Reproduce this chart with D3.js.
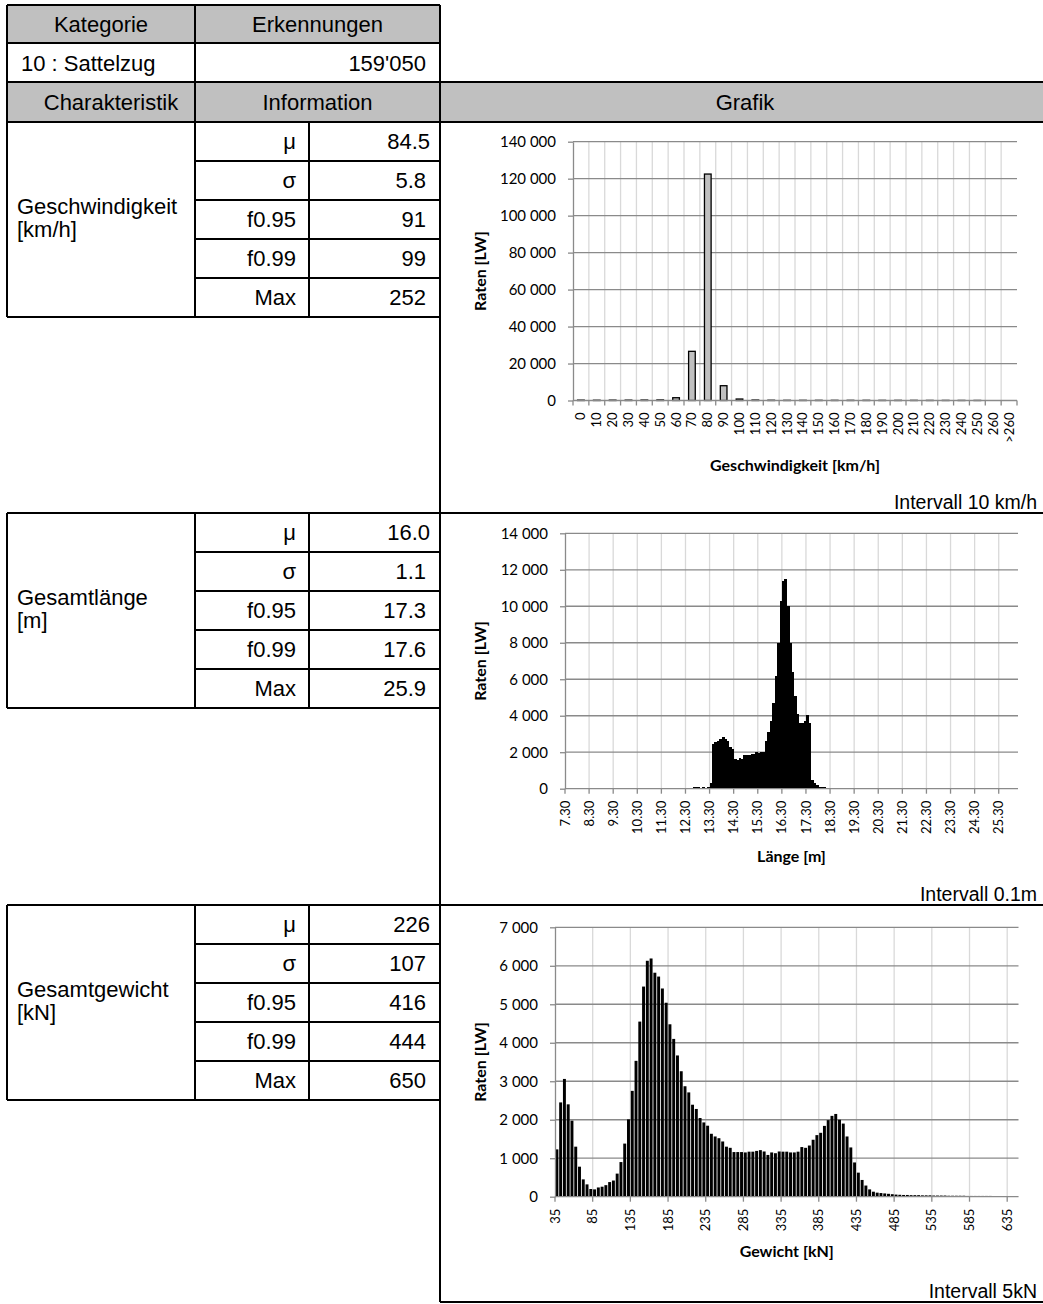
<!DOCTYPE html>
<html><head><meta charset="utf-8">
<script src="https://cdn.jsdelivr.net/npm/d3@7"></script>
<style>body{margin:0;background:#fff}</style>
</head><body>
<svg id="c" width="1043" height="1304"></svg>
<script>
// ---------- DATA ----------
const category = "10 : Sattelzug";
const detections = "159'050";
const statLabels = ["μ", "σ", "f0.95", "f0.99", "Max"];
const speedStats = ["84.5", "5.8", "91", "99", "252"];
const lengthStats = ["16.0", "1.1", "17.3", "17.6", "25.9"];
const weightStats = ["226", "107", "416", "444", "650"];

const speedCategories = ["0","10","20","30","40","50","60","70","80","90","100","110","120","130","140","150","160","170","180","190","200","210","220","230","240","250","260",">260"];
const speedValues = [200,150,200,200,250,300,1500,26600,122500,8000,800,250,150,100,100,100,100,100,100,80,80,80,60,60,50,40,0,0];
const speedYTicks = [0,20000,40000,60000,80000,100000,120000,140000];

const lengthCategories = [
"7.3","7.4","7.5","7.6","7.7","7.8","7.9",
"8.0","8.1","8.2","8.3","8.4","8.5","8.6","8.7","8.8","8.9",
"9.0","9.1","9.2","9.3","9.4","9.5","9.6","9.7","9.8","9.9",
"10.0","10.1","10.2","10.3","10.4","10.5","10.6","10.7","10.8","10.9",
"11.0","11.1","11.2","11.3","11.4","11.5","11.6","11.7","11.8","11.9",
"12.0","12.1","12.2","12.3","12.4","12.5","12.6","12.7","12.8","12.9",
"13.0","13.1","13.2","13.3","13.4","13.5","13.6","13.7","13.8","13.9",
"14.0","14.1","14.2","14.3","14.4","14.5","14.6","14.7","14.8","14.9",
"15.0","15.1","15.2","15.3","15.4","15.5","15.6","15.7","15.8","15.9",
"16.0","16.1","16.2","16.3","16.4","16.5","16.6","16.7","16.8","16.9",
"17.0","17.1","17.2","17.3","17.4","17.5","17.6","17.7","17.8","17.9",
"18.0","18.1","18.2","18.3","18.4","18.5","18.6","18.7","18.8","18.9",
"19.0","19.1","19.2","19.3","19.4","19.5","19.6","19.7","19.8","19.9",
"20.0","20.1","20.2","20.3","20.4","20.5","20.6","20.7","20.8","20.9",
"21.0","21.1","21.2","21.3","21.4","21.5","21.6","21.7","21.8","21.9",
"22.0","22.1","22.2","22.3","22.4","22.5","22.6","22.7","22.8","22.9",
"23.0","23.1","23.2","23.3","23.4","23.5","23.6","23.7","23.8","23.9",
"24.0","24.1","24.2","24.3","24.4","24.5","24.6","24.7","24.8","24.9",
"25.0","25.1","25.2","25.3","25.4","25.5","25.6","25.7","25.8","25.9",
"26.0"];
const lengthValues = [
30,0,0,0,0,0,0,0,0,0,
0,0,0,0,0,0,0,0,0,0,
0,0,0,0,0,0,0,0,0,0,
0,0,0,0,0,30,40,0,0,0,
0,30,0,0,0,0,0,30,0,0,
0,60,60,70,70,70,60,70,60,80,
300,2450,2550,2600,2750,2850,2700,2600,2300,2200,
1650,1600,1700,1650,1850,1850,1870,1880,1900,2000,
1950,2000,2000,2600,3100,3700,4700,6200,8000,10300,
11400,11500,10000,8000,6400,5100,4100,3600,3600,3700,
4050,3600,450,300,200,120,80,70,60,60,
55,55,50,50,50,45,45,45,40,40,
40,40,35,35,35,35,35,30,30,30,
30,30,30,30,25,25,25,25,25,25,
25,25,20,20,20,20,20,20,20,20,
20,20,15,20,15,15,20,15,15,15,
15,15,15,10,15,15,10,15,10,10,
10,15,10,10,10,10,10,10,10,10,
10,10,10,10,10,10,10,10];
const lengthTickCats = ["7.3","8.3","9.3","10.3","11.3","12.3","13.3","14.3","15.3","16.3","17.3","18.3","19.3","20.3","21.3","22.3","23.3","24.3","25.3"];
const lengthTickLabels = ["7.30","8.30","9.30","10.30","11.30","12.30","13.30","14.30","15.30","16.30","17.30","18.30","19.30","20.30","21.30","22.30","23.30","24.30","25.30"];
const lengthYTicks = [0,2000,4000,6000,8000,10000,12000,14000];

const weightCategories = [
35,40,45,50,55,60,65,70,75,80,
85,90,95,100,105,110,115,120,125,130,
135,140,145,150,155,160,165,170,175,180,
185,190,195,200,205,210,215,220,225,230,
235,240,245,250,255,260,265,270,275,280,
285,290,295,300,305,310,315,320,325,330,
335,340,345,350,355,360,365,370,375,380,
385,390,395,400,405,410,415,420,425,430,
435,440,445,450,455,460,465,470,475,480,
485,490,495,500,505,510,515,520,525,530,
535,540,545,550,555,560,565,570,575,580,
585,590,595,600,605,610,615,620,625,630,
635,640,645];
const weightValues = [
1230,2450,3060,2400,1975,1300,780,450,320,200,
190,240,260,300,380,420,600,900,1380,2010,
2750,3530,4550,5460,6130,6190,5820,5720,5410,5040,
4480,4100,3670,3260,2870,2710,2390,2280,2045,1930,
1845,1635,1565,1520,1435,1300,1270,1160,1160,1160,
1150,1170,1170,1190,1210,1175,1085,1150,1130,1175,
1170,1170,1150,1150,1170,1290,1270,1330,1480,1600,
1660,1840,1990,2100,2150,2000,1900,1565,1280,890,
625,435,290,190,130,105,95,85,75,65,
55,50,45,45,40,40,40,35,35,35,
30,30,30,30,25,25,25,25,25,20,
20,20,20,20,20,20,15,15,15,15,
15,15,15];
const weightTickCats = [35,85,135,185,235,285,335,385,435,485,535,585,635];
const weightTickLabels = ["35","85","135","185","235","285","335","385","435","485","535","585","635"];
const weightYTicks = [0,1000,2000,3000,4000,5000,6000,7000];

// ---------- DRAWING ----------
const svg = d3.select("#c");
const TF = "'Liberation Sans', Arial, sans-serif";
const CF = "Lato, 'Open Sans', sans-serif";
const TS = 22;
const fmt = d3.formatLocale({decimal: ".", thousands: " ", grouping: [3], currency: ["", ""]}).format(",d");

function ln(x1, y1, x2, y2) {
  svg.append("line").attr("x1", x1).attr("y1", y1).attr("x2", x2).attr("y2", y2)
    .attr("stroke", "#000").attr("stroke-width", 2);
}
function tx(x, y, s, anchor, size, fam, weight) {
  return svg.append("text").attr("x", x).attr("y", y).attr("text-anchor", anchor || "start")
    .attr("font-family", fam || TF).attr("font-size", size || TS).attr("font-weight", weight || "normal")
    .attr("fill", "#000").text(s);
}

// table geometry
const X0 = 7, X1 = 195, X2 = 309, X3 = 440, XR = 1043;
const GRAY = "#c0c0c0";

svg.append("rect").attr("x", X0).attr("y", 5).attr("width", X3 - X0).attr("height", 38).attr("fill", GRAY);
svg.append("rect").attr("x", X0).attr("y", 82).attr("width", XR - X0).attr("height", 40).attr("fill", GRAY);

tx(101, 32, "Kategorie", "middle");
tx(317.5, 32, "Erkennungen", "middle");
tx(21, 71, category, "start");
tx(426, 71, detections, "end");
tx(111, 110, "Charakteristik", "middle");
tx(317.5, 110, "Information", "middle");
tx(745, 110, "Grafik", "middle");

ln(X0, 5, X3, 5); ln(X0, 43, X3, 43); ln(X0, 82, XR, 82); ln(X0, 122, XR, 122);
ln(X0, 5, X0, 122); ln(X1, 5, X1, 122); ln(X3, 5, X3, 1302);

const sections = [
  {T: 122, name: ["Geschwindigkeit", "[km/h]"], stats: speedStats},
  {T: 513, name: ["Gesamtlänge", "[m]"], stats: lengthStats},
  {T: 905, name: ["Gesamtgewicht", "[kN]"], stats: weightStats}
];
const RH = 39;
sections.forEach(s => {
  const T = s.T;
  ln(X0, T, XR, T);
  for (let k = 1; k < 5; k++) ln(X1, T + RH * k, X3, T + RH * k);
  ln(X0, T + RH * 5, X3, T + RH * 5);
  ln(X0, T, X0, T + RH * 5); ln(X1, T, X1, T + RH * 5); ln(X2, T, X2, T + RH * 5);
  tx(17, T + 92, s.name[0], "start");
  tx(17, T + 115, s.name[1], "start");
  statLabels.forEach((l, k) => {
    tx(296, T + 27 + RH * k, l, "end");
    tx(k === 0 ? 430 : 426, T + 27 + RH * k, s.stats[k], "end");
  });
});
ln(X3, 1302, XR, 1302);

function drawChart(cfg) {
  const g = svg.append("g");
  const x = d3.scaleBand().domain(cfg.cats).range([cfg.left, cfg.right])
    .paddingInner(cfg.pad).paddingOuter(cfg.pad / 2);
  const y = d3.scaleLinear().domain([0, cfg.yMax]).range([cfg.bottom, cfg.top]);
  const edge = c => x(c) - (x.step() - x.bandwidth()) / 2;

  // vertical gridlines
  g.append("g").selectAll("line").data(cfg.gridCats).join("line")
    .attr("x1", d => edge(d)).attr("x2", d => edge(d))
    .attr("y1", cfg.top).attr("y2", cfg.bottom)
    .attr("stroke", "#d9d9d9").attr("stroke-width", 1.3);
  // horizontal gridlines
  g.append("g").selectAll("line").data(cfg.yTicks.slice(1)).join("line")
    .attr("x1", cfg.left).attr("x2", cfg.right)
    .attr("y1", d => y(d)).attr("y2", d => y(d))
    .attr("stroke", "#8a8a8a").attr("stroke-width", 1.3);

  // bars
  const data = cfg.vals.map((v, i) => ({c: cfg.cats[i], v})).filter(d => d.v > 0);
  const bars = g.append("g").selectAll("rect").data(data).join("rect")
    .attr("x", d => x(d.c)).attr("width", x.bandwidth() + (cfg.overlap || 0))
    .attr("y", d => y(d.v)).attr("height", d => y(0) - y(d.v))
    .attr("fill", cfg.fill).attr("stroke", cfg.stroke || "none")
    .attr("stroke-width", cfg.stroke ? 1.3 : 0);
  if (cfg.crisp) bars.attr("shape-rendering", "crispEdges");

  // y axis
  const ya = g.append("g").attr("transform", `translate(${cfg.left},0)`)
    .call(d3.axisLeft(y).tickValues(cfg.yTicks).tickFormat(fmt).tickSize(5).tickSizeOuter(0).tickPadding(12));
  ya.select(".domain").attr("stroke", "#8a8a8a").attr("stroke-width", 1.3);
  ya.selectAll(".tick line").attr("stroke", "#8a8a8a").attr("stroke-width", 1.3);
  ya.selectAll("text").attr("font-family", CF).attr("font-size", 15).attr("fill", "#000");

  // x axis line + ticks
  g.append("line").attr("x1", cfg.left).attr("x2", cfg.right).attr("y1", y(0)).attr("y2", y(0))
    .attr("stroke", "#8a8a8a").attr("stroke-width", 1.3);
  const tickXs = cfg.tickCats.map(edge);
  if (cfg.tickEnd) tickXs.push(cfg.right);
  g.append("g").selectAll("line").data(tickXs).join("line")
    .attr("x1", d => d).attr("x2", d => d).attr("y1", y(0)).attr("y2", y(0) + 5)
    .attr("stroke", "#8a8a8a").attr("stroke-width", 1.3);

  // x labels (rotated)
  g.append("g").selectAll("text").data(cfg.labelCats).join("text")
    .attr("transform", (d) => {
      const px = cfg.labelCenter ? x(d) + x.bandwidth() / 2 : edge(d);
      return `translate(${px},${y(0) + 12}) rotate(-90)`;
    })
    .attr("dy", "0.35em").attr("text-anchor", "end")
    .attr("font-family", CF).attr("font-size", 13).attr("fill", "#000")
    .text((d, i) => cfg.labels[i]);

  // titles
  tx((cfg.left + cfg.right) / 2, cfg.xTitleY, cfg.xTitle, "middle", 16, CF, "bold");
  svg.append("text").attr("transform", `translate(486,${(cfg.top + cfg.bottom) / 2}) rotate(-90)`)
    .attr("text-anchor", "middle").attr("font-family", CF).attr("font-size", 16)
    .attr("font-weight", "bold").attr("fill", "#000").text("Raten [LW]");
  tx(1037, cfg.intervalY, cfg.interval, "end", 19.5);
}

drawChart({
  cats: speedCategories, vals: speedValues, yTicks: speedYTicks, yMax: 140000,
  left: 573, right: 1017, top: 141.7, bottom: 400.5, pad: 0.58,
  fill: "#c0c0c0", stroke: "#000",
  gridCats: speedCategories.slice(1), tickCats: speedCategories, tickEnd: true,
  labelCats: speedCategories, labels: speedCategories, labelCenter: true,
  xTitle: "Geschwindigkeit [km/h]", xTitleY: 470.5,
  interval: "Intervall 10 km/h", intervalY: 509
});
drawChart({
  cats: lengthCategories, vals: lengthValues, yTicks: lengthYTicks, yMax: 14000,
  left: 565, right: 1018, top: 533.3, bottom: 788.7, pad: 0.04, overlap: 0.6, crisp: true,
  fill: "#000",
  gridCats: lengthTickCats.slice(1), tickCats: lengthTickCats, tickEnd: false,
  labelCats: lengthTickCats, labels: lengthTickLabels, labelCenter: false,
  xTitle: "Länge [m]", xTitleY: 862,
  interval: "Intervall 0.1m", intervalY: 901
});
drawChart({
  cats: weightCategories, vals: weightValues, yTicks: weightYTicks, yMax: 7000,
  left: 555, right: 1018.5, top: 927.3, bottom: 1196.7, pad: 0.22,
  fill: "#000",
  gridCats: weightTickCats.slice(1), tickCats: weightTickCats, tickEnd: false,
  labelCats: weightTickCats, labels: weightTickLabels, labelCenter: false,
  xTitle: "Gewicht [kN]", xTitleY: 1257,
  interval: "Intervall 5kN", intervalY: 1298
});
</script>
</body></html>
